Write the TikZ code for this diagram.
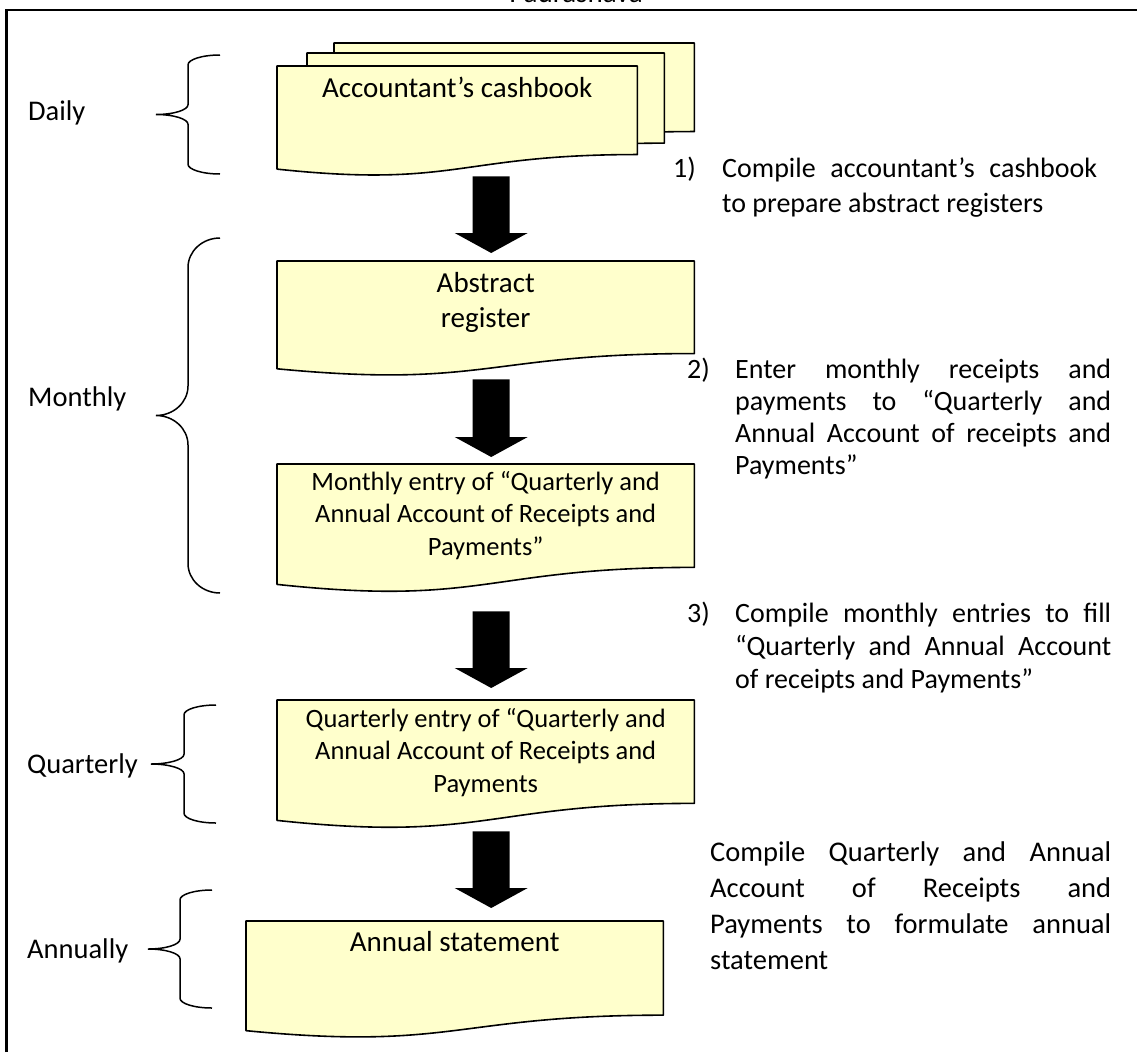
\documentclass[tikz,border=0pt]{standalone}
\usepackage{fontspec}
\setmainfont{Carlito}
\usetikzlibrary{calc}
\definecolor{docyellow}{RGB}{255,255,204}
\tikzset{docsheet/.style={inner sep=0pt, anchor=north west, draw=none},
         docline/.style={draw=black, line width=1.6pt, fill=docyellow, line join=round},
         doctext/.style={align=center, anchor=base, inner sep=0pt, font=\fontsize{29}{35}\selectfont},
         docsmall/.style={doctext, font=\fontsize{26.5}{32.5}\selectfont},
         steptext/.style={align=justify, anchor=base west, inner sep=0pt, font=\fontsize{28}{#1}\selectfont},
         stepnum/.style={anchor=base west, inner sep=0pt, font=\fontsize{28}{34}\selectfont},
         period/.style={anchor=base west, inner sep=0pt, font=\fontsize{28.5}{34}\selectfont},
         bracel/.style={draw=black, line width=1.5pt},
         frame/.style={draw=black, line width=2.5pt}}
\newcommand\docpath[1]{%
	\path[docline] (#1.north west) -- (#1.north east)
		-- ($(#1.north east)!0.802!(#1.south east)$)
		.. controls ($(#1.north)!0.802!(#1.south)$) and ($(#1.north)!1.107!(#1.south)$)
		.. ($(#1.north west)!0.934!(#1.south west)$) -- cycle;}
\newcommand\bigarrow[2]{%
	\fill let \p1=#1, \p2=#2 in
		(\x1-18.5pt,\y1) -- (\x1+18.5pt,\y1) -- (\x1+18.5pt,\y2+20pt) -- (\x1+36.5pt,\y2+20pt)
		-- (\x1,\y2) -- (\x1-36.5pt,\y2+20pt) -- (\x1-18.5pt,\y2+20pt) -- cycle;}
\newcommand\sidebrace[4]{%
	\pgfmathsetmacro\bm{(#2+#3)/2}
	\pgfmathsetmacro\br{0.083*(#3-#2)}
	\path[bracel] (#4,#2) .. controls ({#4-0.552*32},#2) and ({#4-32},{#2+0.448*\br}) .. ({#4-32},{#2+\br})
		-- ({#4-32},{\bm-\br}) .. controls ({#4-32},{\bm-0.448*\br}) and ({#1+0.552*32},\bm) .. (#1,\bm)
		.. controls ({#1+0.552*32},\bm) and ({#4-32},{\bm+0.448*\br}) .. ({#4-32},{\bm+\br})
		-- ({#4-32},{#3-\br}) .. controls ({#4-32},{#3-0.448*\br}) and ({#4-0.552*32},#3) .. (#4,#3);}

\begin{document}
\begin{tikzpicture}[x=1pt,y=-1pt]
	\useasboundingbox (0,0) rectangle (1137,1052);
	\node[anchor=base, inner sep=0pt, font=\fontsize{29}{35}\selectfont] (title) at (576,2.5) {Paurashava};
	\path[frame] (6.5,1052) -- (6.5,10) -- (1137,10);

	\node[docsheet, minimum width=360pt, minimum height=110pt] (cash3) at (334,43) {};
	\node[docsheet, minimum width=357pt, minimum height=112pt] (cash2) at (307,53) {};
	\node[docsheet, minimum width=360pt, minimum height=110pt] (cash) at (277,66) {};
	\node[docsheet, minimum width=417pt, minimum height=115pt] (abs) at (277,261) {};
	\node[docsheet, minimum width=417pt, minimum height=128.5pt] (mon) at (277,464) {};
	\node[docsheet, minimum width=417pt, minimum height=128.5pt] (qtr) at (277,700) {};
	\node[docsheet, minimum width=417pt, minimum height=117pt] (ann) at (246,921) {};
	\docpath{cash3}
	\docpath{cash2}
	\docpath{cash}
	\docpath{abs}
	\docpath{mon}
	\docpath{qtr}
	\docpath{ann}

	\node[doctext] (cashtxt) at ($(cash.north)+(0,31)$) {Accountant’s cashbook};
	\node[doctext] (abstxt) at ($(abs.north)+(0,66)$) {Abstract\\register};
	\node[docsmall] (montxt) at ($(mon.north)+(0,91)$) {Monthly entry of “Quarterly and\\Annual Account of Receipts and\\Payments”};
	\node[docsmall] (qtrtxt) at ($(qtr.north)+(0,92)$) {Quarterly entry of “Quarterly and\\Annual Account of Receipts and\\Payments};
	\node[doctext] (anntxt) at ($(ann.north)+(0,30)$) {Annual statement};

	\bigarrow{($(cash.south)+(34,0)$)}{($(abs.north)+(5.5,-8)$)}
	\bigarrow{($(abs.south)+(5.5,3)$)}{($(mon.north)+(5.5,-7)$)}
	\bigarrow{($(mon.south)+(5.5,18.5)$)}{($(qtr.north)+(5.5,-12)$)}
	\bigarrow{($(qtr.south)+(5.5,2.5)$)}{($(ann.north)+(36.5,-13)$)}

	\sidebrace{156}{55}{174}{220}
	\sidebrace{156}{238}{593}{220}
	\sidebrace{151}{705}{823}{216}
	\sidebrace{148}{890}{1008}{212}
	\node[period] (daily) at (28,120) {Daily};
	\node[period] (monthly) at (28,406) {Monthly};
	\node[period] (quarterly) at (27,773) {Quarterly};
	\node[period] (annually) at (27,958) {Annually};

	\node[stepnum] (n1) at (673,177) {1)};
	\node[steptext=35, text width=375pt] (s1) at (722,177) {Compile accountant’s cashbook\linebreak to prepare abstract registers};
	\node[stepnum] (n2) at (687,378) {2)};
	\node[steptext=32, text width=376pt] (s2) at (735,378) {Enter monthly receipts and\linebreak payments to “Quarterly and\linebreak Annual Account of receipts and\linebreak Payments”};
	\node[stepnum] (n3) at (687,622) {3)};
	\node[steptext=33, text width=376pt] (s3) at (735,622) {Compile monthly entries to fill\linebreak “Quarterly and Annual Account\linebreak of receipts and Payments”};
	\node[steptext=36, text width=401pt, font=\fontsize{28.5}{36}\selectfont] (s4) at (710,861) {Compile Quarterly and Annual\linebreak Account of Receipts and\linebreak Payments to formulate annual\linebreak statement};
\end{tikzpicture}
\end{document}
